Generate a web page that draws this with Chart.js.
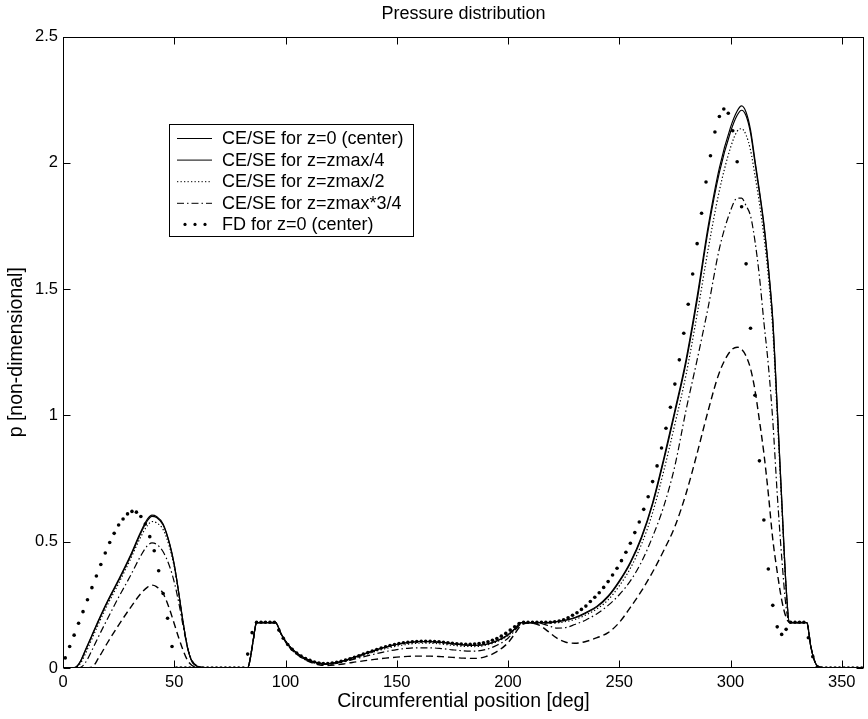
<!DOCTYPE html>
<html><head><meta charset="utf-8">
<script src="https://cdn.jsdelivr.net/npm/chart.js@4.4.0/dist/chart.umd.min.js"></script>
<style>html,body{margin:0;padding:0;background:#fff;}#wrap{width:868px;height:719px;position:relative;}</style>
</head><body><div id="wrap"><canvas id="c"></canvas></div>
<script>
// circumferential positions [deg] for the CE/SE curves
const xGrid = [0,4,6,8,10,13,16,20,25,30,35,38,40,42,45,48,50,52,54,56,58,60,63,66,83,84,85.5,87,95.5,98,101,105,110,115,118,122,126,130,135,140,145,150,155,160,165,170,175,180,185,190,195,200,203,206,210,214,218,222,226,230,235,240,245,250,255,260,265,270,275,280,285,290,295,300,303,305,307,309,311,313,315,317,319,321,323,325,326.5,330,334.3,336,337.5,338.8,341,345,360];
// CE/SE z=0 (center)
const ceCenter = [0,0,0.005,0.03,0.07,0.13,0.19,0.265,0.35,0.44,0.54,0.59,0.605,0.6,0.57,0.49,0.41,0.3,0.18,0.08,0.025,0.008,0.002,0,0,0.03,0.11,0.18,0.18,0.135,0.095,0.06,0.033,0.019,0.016,0.02,0.028,0.04,0.055,0.07,0.083,0.094,0.101,0.105,0.105,0.102,0.097,0.092,0.09,0.094,0.108,0.132,0.155,0.18,0.18,0.18,0.18,0.184,0.19,0.2,0.22,0.245,0.285,0.345,0.42,0.52,0.655,0.83,1.02,1.22,1.47,1.75,1.98,2.14,2.205,2.225,2.2,2.13,2.01,1.89,1.76,1.59,1.38,1.03,0.67,0.32,0.18,0.18,0.18,0.09,0.035,0.01,0.002,0,0];
// CE/SE z=zmax/4
const ceQuarter = [0,0,0.004,0.028,0.067,0.127,0.186,0.261,0.346,0.435,0.534,0.584,0.6,0.596,0.566,0.487,0.408,0.298,0.178,0.079,0.025,0.008,0.002,0,0,0.03,0.11,0.18,0.18,0.135,0.095,0.06,0.033,0.019,0.016,0.02,0.028,0.04,0.054,0.069,0.082,0.093,0.1,0.104,0.104,0.101,0.096,0.091,0.089,0.093,0.107,0.131,0.154,0.18,0.18,0.18,0.18,0.183,0.189,0.198,0.217,0.242,0.282,0.341,0.415,0.514,0.648,0.821,1.01,1.208,1.455,1.735,1.962,2.122,2.188,2.208,2.186,2.118,2.0,1.882,1.752,1.585,1.375,1.03,0.67,0.32,0.18,0.18,0.18,0.09,0.035,0.01,0.002,0,0];
// CE/SE z=zmax/2
const ceHalf = [0,0,0.003,0.02,0.055,0.115,0.175,0.25,0.335,0.425,0.52,0.565,0.58,0.575,0.548,0.475,0.4,0.295,0.18,0.082,0.028,0.01,0.003,0,0,0.03,0.11,0.18,0.18,0.135,0.094,0.059,0.032,0.018,0.015,0.019,0.026,0.037,0.051,0.065,0.077,0.087,0.094,0.098,0.098,0.095,0.09,0.086,0.085,0.09,0.104,0.128,0.152,0.178,0.18,0.18,0.179,0.179,0.184,0.192,0.21,0.234,0.27,0.325,0.395,0.49,0.615,0.78,0.965,1.16,1.4,1.66,1.89,2.06,2.125,2.135,2.11,2.05,1.95,1.84,1.71,1.55,1.34,1.0,0.65,0.31,0.18,0.18,0.18,0.09,0.035,0.01,0.002,0,0];
// CE/SE z=zmax*3/4
const ceThreeQ = [0,0,0,0.003,0.02,0.07,0.125,0.195,0.28,0.36,0.445,0.485,0.495,0.49,0.46,0.4,0.34,0.26,0.165,0.08,0.03,0.01,0.002,0,0,0.03,0.11,0.18,0.18,0.135,0.093,0.057,0.03,0.017,0.014,0.017,0.024,0.033,0.044,0.055,0.065,0.073,0.078,0.08,0.08,0.077,0.072,0.068,0.067,0.073,0.09,0.118,0.148,0.175,0.18,0.178,0.168,0.158,0.16,0.172,0.19,0.215,0.248,0.29,0.345,0.42,0.52,0.64,0.8,1.02,1.22,1.43,1.66,1.81,1.86,1.86,1.83,1.79,1.69,1.55,1.37,1.2,0.98,0.69,0.44,0.24,0.18,0.18,0.18,0.09,0.035,0.01,0.002,0,0];
// CE/SE near edge (dashed, not in legend)
const ceEdge = [0,0,0,0,0,0.003,0.04,0.1,0.17,0.235,0.295,0.32,0.328,0.322,0.295,0.23,0.175,0.12,0.07,0.03,0.01,0.003,0,0,0,0.03,0.11,0.18,0.18,0.135,0.09,0.055,0.027,0.013,0.01,0.012,0.016,0.022,0.028,0.034,0.039,0.043,0.046,0.047,0.047,0.045,0.042,0.039,0.038,0.045,0.065,0.1,0.135,0.17,0.178,0.17,0.145,0.118,0.102,0.098,0.105,0.12,0.14,0.18,0.24,0.305,0.38,0.465,0.56,0.69,0.85,1.02,1.17,1.255,1.27,1.262,1.235,1.185,1.1,0.98,0.85,0.69,0.51,0.38,0.27,0.2,0.18,0.18,0.18,0.09,0.035,0.01,0.002,0,0];
// FD grid positions [deg] and values
const fdDeg = [1,3,5,7,9,11,13,15,17,19,21,23,25,27,29,31,33,35,37,39,41,43,45,47,49,51,53,55,57,59,61,63,65,67,69,71,73,75,77,79,81,83,85,87,89,91,93,95,97,99,101,103,105,107,109,111,113,115,117,119,121,123,125,127,129,131,133,135,137,139,141,143,145,147,149,151,153,155,157,159,161,163,165,167,169,171,173,175,177,179,181,183,185,187,189,191,193,195,197,199,201,203,205,207,209,211,213,215,217,219,221,223,225,227,229,231,233,235,237,239,241,243,245,247,249,251,253,255,257,259,261,263,265,267,269,271,273,275,277,279,281,283,285,287,289,291,293,295,297,299,301,303,305,307,309,311,313,315,317,319,321,323,325,327,329,331,333,335,337,339,341,343,345,347,349,351,353,355,357,359];
const fdVal = [0.04,0.085,0.13,0.177,0.223,0.27,0.318,0.364,0.41,0.455,0.497,0.533,0.566,0.59,0.61,0.62,0.617,0.6,0.57,0.52,0.464,0.385,0.295,0.197,0.085,
0,0,0,0,0,0,0,0,0,0,0,0,0,0,0,0,
0.055,0.14,0.181,0.181,0.181,0.181,0.181,0.15,0.118,0.093,0.074,0.059,0.047,0.037,0.03,0.024,0.02,0.018,0.018,0.02,0.023,0.027,0.031,0.036,0.042,0.048,0.055,0.061,0.067,0.073,0.079,0.084,0.089,0.093,0.097,0.1,0.102,0.104,0.105,0.106,0.106,0.106,0.105,0.104,0.102,0.1,0.098,0.096,0.095,0.094,0.094,0.095,0.097,0.1,0.104,0.11,0.117,0.126,0.137,0.15,0.163,0.176,
0.181,0.181,0.181,0.181,0.181,0.181,0.181,0.183,0.186,0.191,0.199,0.209,0.219,0.232,0.245,0.263,0.28,0.298,0.319,0.342,0.368,0.395,0.425,0.458,0.494,0.536,0.578,0.628,0.678,0.738,0.8,0.871,0.949,1.032,1.124,1.22,1.325,1.44,1.56,1.68,1.8,1.924,2.028,2.122,2.183,2.213,2.196,2.127,2.004,1.826,1.6,1.345,1.08,0.82,0.586,0.392,0.248,0.163,0.133,0.153,0.181,0.181,0.181,0.181,0.12,0.045,0.005,
0,0,0,0,0,0,0,0,0,0];
const xTicks = [0,50,100,150,200,250,300,350];
const yTicks = [0,0.5,1,1.5,2,2.5];
const legendLabels = ['CE/SE for z=0 (center)','CE/SE for z=zmax/4','CE/SE for z=zmax/2','CE/SE for z=zmax*3/4','FD for z=0 (center)'];

const FONT = '"Liberation Sans", Arial, Helvetica, sans-serif';
const pts = arr => xGrid.map((x,i)=>({x, y:arr[i]}));
const lineDs = (label, arr, dash, w, inLegend) => ({
  label, data: pts(arr), borderColor:'#000', borderWidth:w, borderDash:dash,
  pointRadius:0, fill:false, cubicInterpolationMode:'monotone', inLegend
});

const datasets = [
  lineDs(legendLabels[0], ceCenter, [], 1.2, true),
  lineDs(legendLabels[1], ceQuarter, [], 1.2, true),
  lineDs(legendLabels[2], ceHalf, [1.3,2.2], 1.2, true),
  lineDs(legendLabels[3], ceThreeQ, [7,3,1.5,3], 1.2, true),
  lineDs('edge', ceEdge, [7,4], 1.4, false),
  { label: legendLabels[4], data: fdDeg.map((x,i)=>({x, y:fdVal[i]})), showLine:false,
    pointRadius:1.8, pointStyle:'circle', backgroundColor:'#000', borderColor:'#000', borderWidth:0, inLegend:true, isFD:true }
];

const frame = {
  id:'frame',
  afterDatasetsDraw(chart){
    const {ctx, chartArea:a, scales:{x,y}} = chart;
    const L=Math.round(a.left)+0.5, R=Math.round(a.right)-0.5, T=Math.round(a.top)+0.5, B=Math.round(a.bottom)-0.5;
    ctx.save();
    ctx.strokeStyle='#000'; ctx.lineWidth=1; ctx.setLineDash([]);
    ctx.strokeRect(L,T,R-L,B-T);
    const tl=7;
    ctx.beginPath();
    xTicks.forEach(v=>{const px=Math.round(x.getPixelForValue(v))+0.5; ctx.moveTo(px,B); ctx.lineTo(px,B-tl); ctx.moveTo(px,T); ctx.lineTo(px,T+tl);});
    yTicks.forEach(v=>{const py=Math.round(y.getPixelForValue(v))+0.5; ctx.moveTo(L,py); ctx.lineTo(L+tl,py); ctx.moveTo(R,py); ctx.lineTo(R-tl,py);});
    ctx.stroke();
    ctx.restore();
  }
};

const LEG_FONT = 18;
const boxLegend = {
  id:'boxLegend',
  afterDraw(chart){
    const {ctx} = chart;
    ctx.save();
    ctx.font = LEG_FONT+'px '+FONT;
    const items = chart.data.datasets.filter(d=>d.inLegend);
    const maxW = Math.max(...items.map(d=>ctx.measureText(d.label).width));
    const bx=169.5, by=124.5, bh=112, bw=Math.round(222+maxW+10-bx);
    ctx.fillStyle='#fff'; ctx.fillRect(bx,by,bw,bh);
    ctx.strokeStyle='#000'; ctx.lineWidth=1; ctx.setLineDash([]); ctx.strokeRect(bx,by,bw,bh);
    items.forEach((d,i)=>{
      const cy = 138 + i*21.6;
      if (d.isFD) {
        ctx.fillStyle='#000';
        [185,195,205].forEach(px=>{ctx.beginPath(); ctx.arc(px,cy,1.6,0,Math.PI*2); ctx.fill();});
      } else {
        ctx.strokeStyle='#000'; ctx.lineWidth=1; ctx.setLineDash(d.borderDash||[]);
        ctx.beginPath(); ctx.moveTo(177,cy+0.5); ctx.lineTo(212,cy+0.5); ctx.stroke();
        ctx.setLineDash([]);
      }
      ctx.fillStyle='#000'; ctx.textBaseline='middle'; ctx.textAlign='left';
      ctx.fillText(d.label, 222, cy+1);
    });
    ctx.restore();
  }
};

new Chart(document.getElementById('c'), {
  type:'line',
  data:{datasets},
  options:{
    responsive:true, maintainAspectRatio:false, animation:false,
    layout:{padding:{top:0,right:1,left:0,bottom:0}},
    plugins:{
      legend:{display:false}, tooltip:{enabled:false},
      title:{display:true, fullSize:false, text:'Pressure distribution', color:'#000', font:{family:FONT,size:18,weight:'normal'}, padding:{top:3.5,bottom:11.4}}
    },
    scales:{
      x:{type:'linear', min:0, max:360,
        afterBuildTicks:s=>{s.ticks = xTicks.map(v=>({value:v}));},
        afterFit:s=>{s.height=51;},
        grid:{display:false, drawTicks:false}, border:{display:false},
        ticks:{color:'#000', padding:5, maxRotation:0, autoSkip:false, font:{family:FONT,size:16.5}, callback:v=>String(v)},
        title:{display:true, text:'Circumferential position [deg]', color:'#000', font:{family:FONT,size:19.5}, padding:{top:0,bottom:6}}
      },
      y:{type:'linear', min:0, max:2.5,
        afterBuildTicks:s=>{s.ticks = yTicks.map(v=>({value:v}));},
        afterFit:s=>{s.width=63;},
        grid:{display:false, drawTicks:false}, border:{display:false},
        ticks:{color:'#000', padding:5, font:{family:FONT,size:16.5}, callback:v=>String(v)},
        title:{display:true, text:'p [non-dimensional]', color:'#000', font:{family:FONT,size:19.5}, padding:{top:5,bottom:0}}
      }
    }
  },
  plugins:[frame, boxLegend]
});
</script></body></html>
